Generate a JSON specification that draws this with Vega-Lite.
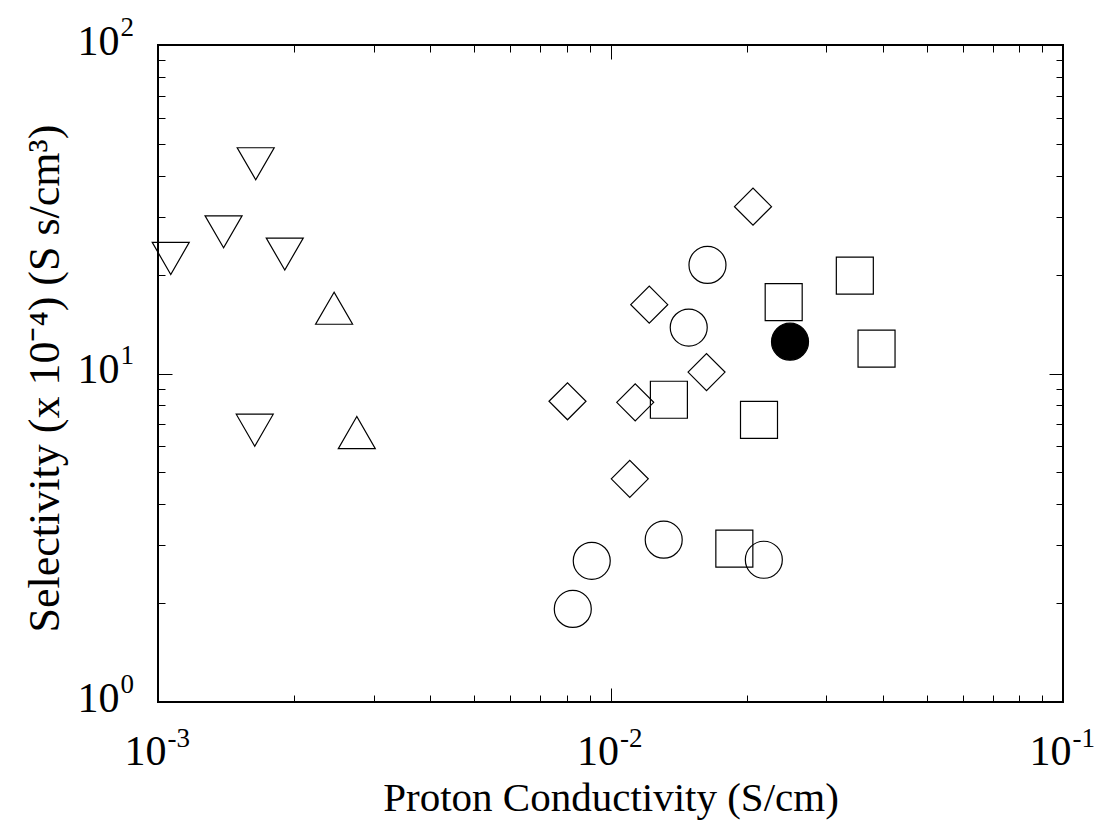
{
  "$schema": "https://vega.github.io/schema/vega-lite/v6.json",
  "width": 905,
  "height": 657,
  "autosize": "none",
  "padding": {"left": 158, "top": 45, "right": 35, "bottom": 120},
  "background": "white",
  "config": {
    "view": {"stroke": "black", "strokeWidth": 2},
    "axis": {
      "domain": false,
      "grid": false,
      "labelFont": "Liberation Serif",
      "titleFont": "Liberation Serif",
      "labelColor": "black",
      "titleColor": "black",
      "tickColor": "black",
      "tickWidth": 1,
      "labelFlush": false,
      "labelOverlap": false,
      "labelBound": false,
      "labelAngle": 0,
      "titleFontWeight": "normal"
    }
  },
  "data": {
    "values": [
      {"cond": 0.001067, "sel": 22.4, "series": "A"},
      {"cond": 0.001396, "sel": 27.0, "series": "A"},
      {"cond": 0.001644, "sel": 43.5, "series": "A"},
      {"cond": 0.001906, "sel": 23.1, "series": "A"},
      {"cond": 0.001636, "sel": 6.72, "series": "A"},
      {"cond": 0.00245, "sel": 15.8, "series": "B"},
      {"cond": 0.00275, "sel": 6.61, "series": "B"},
      {"cond": 0.01638, "sel": 21.4, "series": "C"},
      {"cond": 0.01489, "sel": 13.8, "series": "C"},
      {"cond": 0.01311, "sel": 3.12, "series": "C"},
      {"cond": 0.02182, "sel": 2.71, "series": "C"},
      {"cond": 0.00909, "sel": 2.69, "series": "C"},
      {"cond": 0.008254, "sel": 1.92, "series": "C"},
      {"cond": 0.02493, "sel": 12.5, "series": "D"},
      {"cond": 0.02065, "sel": 32.2, "series": "E"},
      {"cond": 0.01218, "sel": 16.2, "series": "E"},
      {"cond": 0.0163, "sel": 10.1, "series": "E"},
      {"cond": 0.008035, "sel": 8.23, "series": "E"},
      {"cond": 0.01134, "sel": 8.17, "series": "E"},
      {"cond": 0.01103, "sel": 4.78, "series": "E"},
      {"cond": 0.03467, "sel": 19.85, "series": "F"},
      {"cond": 0.02414, "sel": 16.5, "series": "F"},
      {"cond": 0.03872, "sel": 11.9, "series": "F"},
      {"cond": 0.01346, "sel": 8.32, "series": "F"},
      {"cond": 0.02129, "sel": 7.22, "series": "F"},
      {"cond": 0.01878, "sel": 2.93, "series": "F"}
    ]
  },
  "resolve": {"axis": {"x": "independent", "y": "independent"}},
  "layer": [
    {
      "mark": {"type": "point", "filled": true, "strokeWidth": 1.2, "stroke": "black"},
      "encoding": {
        "x": {"field": "cond", "type": "quantitative",
          "scale": {"type": "log", "domain": [0.001, 0.1], "nice": false},
          "axis": {"orient": "bottom", "values": [0.001, 0.01, 0.1], "ticks": false,
            "labelExpr": "'10'", "labelFontSize": 42, "labelAlign": "center", "labelBaseline": "alphabetic",
            "labelPadding": 62, "labelOffset": -13,
            "title": "Proton Conductivity (S/cm)", "titleFontSize": 41, "titleX": 452.5, "titleY": 108,
            "titleBaseline": "alphabetic", "titleAlign": "center", "titleAnchor": null}},
        "y": {"field": "sel", "type": "quantitative",
          "scale": {"type": "log", "domain": [1, 100], "nice": false},
          "axis": {"orient": "left", "values": [1, 10, 100], "ticks": false,
            "labelExpr": "'10'", "labelFontSize": 42, "labelAlign": "right", "labelBaseline": "alphabetic",
            "labelPadding": 39, "labelOffset": 9,
            "title": "Selectivity (x 10⁻⁴) (S s/cm³)", "titleFontSize": 44, "titleAngle": -90,
            "titleX": -100, "titleY": 333, "titleBaseline": "alphabetic", "titleAlign": "center", "titleAnchor": null}},
        "shape": {"field": "series", "type": "nominal", "legend": null,
          "scale": {"domain": ["A", "B", "C", "D", "E", "F"],
            "range": ["triangle-down", "triangle-up", "circle", "circle", "diamond", "square"]}},
        "fill": {"field": "series", "type": "nominal", "legend": null,
          "scale": {"domain": ["A", "B", "C", "D", "E", "F"],
            "range": ["transparent", "transparent", "transparent", "black", "transparent", "transparent"]}},
        "size": {"value": 1369},
        "opacity": {"value": 1}
      }
    },
    {
      "mark": {"type": "point", "opacity": 0},
      "encoding": {
        "x": {"field": "cond", "type": "quantitative",
          "axis": {"orient": "bottom", "values": [0.001, 0.01, 0.1], "ticks": false, "title": null,
            "labelExpr": "datum.value < 0.005 ? '-3' : datum.value < 0.05 ? '-2' : '-1'",
            "labelFontSize": 27, "labelAlign": "left", "labelBaseline": "alphabetic",
            "labelPadding": 44, "labelOffset": 9}},
        "y": {"field": "sel", "type": "quantitative",
          "axis": {"orient": "left", "values": [1, 10, 100], "ticks": false, "title": null,
            "labelExpr": "datum.value < 5 ? '0' : datum.value < 50 ? '1' : '2'",
            "labelFontSize": 27, "labelAlign": "left", "labelBaseline": "alphabetic",
            "labelPadding": 38, "labelOffset": -10}}
      }
    },
    {
      "mark": {"type": "point", "opacity": 0},
      "encoding": {
        "x": {"field": "cond", "type": "quantitative",
          "axis": {"orient": "bottom", "values": [0.001, 0.01, 0.1], "labels": false, "title": null, "tickSize": -14}},
        "y": {"field": "sel", "type": "quantitative",
          "axis": {"orient": "left", "values": [1, 10, 100], "labels": false, "title": null, "tickSize": -14}}
      }
    },
    {
      "mark": {"type": "point", "opacity": 0},
      "encoding": {
        "x": {"field": "cond", "type": "quantitative",
          "axis": {"orient": "bottom", "values": [0.002, 0.003, 0.004, 0.005, 0.006, 0.007, 0.008, 0.009, 0.02, 0.03, 0.04, 0.05, 0.06, 0.07, 0.08, 0.09], "labels": false, "title": null, "tickSize": -7}},
        "y": {"field": "sel", "type": "quantitative",
          "axis": {"orient": "left", "values": [2, 3, 4, 5, 6, 7, 8, 9, 20, 30, 40, 50, 60, 70, 80, 90], "labels": false, "title": null, "tickSize": -7}}
      }
    },
    {
      "mark": {"type": "point", "opacity": 0},
      "encoding": {
        "x": {"field": "cond", "type": "quantitative",
          "axis": {"orient": "top", "values": [0.001, 0.01, 0.1], "labels": false, "title": null, "tickSize": -14}},
        "y": {"field": "sel", "type": "quantitative",
          "axis": {"orient": "right", "values": [1, 10, 100], "labels": false, "title": null, "tickSize": -14}}
      }
    },
    {
      "mark": {"type": "point", "opacity": 0},
      "encoding": {
        "x": {"field": "cond", "type": "quantitative",
          "axis": {"orient": "top", "values": [0.002, 0.003, 0.004, 0.005, 0.006, 0.007, 0.008, 0.009, 0.02, 0.03, 0.04, 0.05, 0.06, 0.07, 0.08, 0.09], "labels": false, "title": null, "tickSize": -7}},
        "y": {"field": "sel", "type": "quantitative",
          "axis": {"orient": "right", "values": [2, 3, 4, 5, 6, 7, 8, 9, 20, 30, 40, 50, 60, 70, 80, 90], "labels": false, "title": null, "tickSize": -7}}
      }
    }
  ]
}
